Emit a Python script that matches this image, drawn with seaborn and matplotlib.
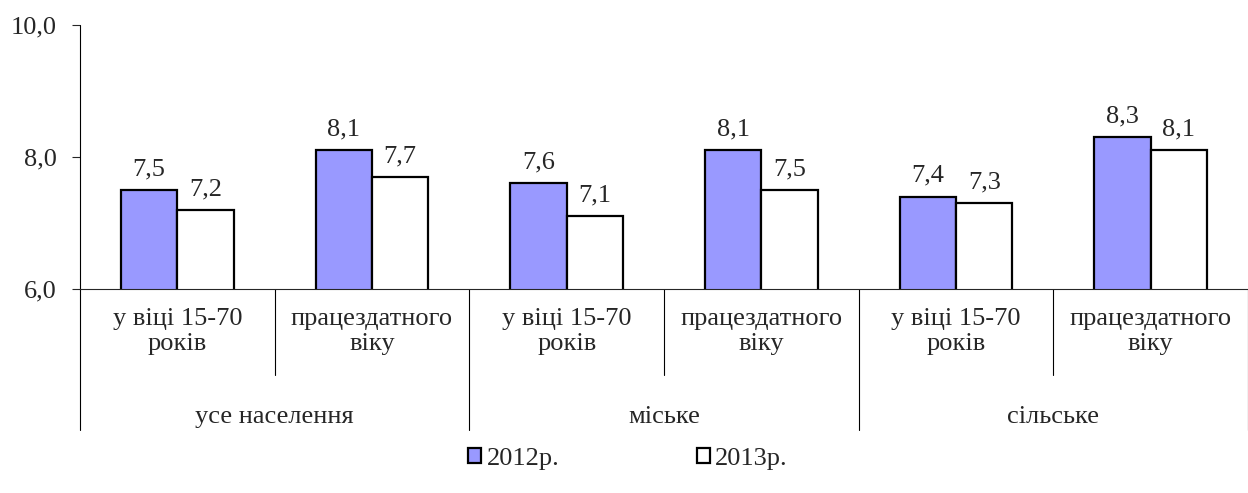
import pandas as pd
import numpy as np
import matplotlib.pyplot as plt
import seaborn as sns

# дані
sub_labels = ['у віці 15-70\nроків', 'працездатного\nвіку'] * 3
group_labels = ['усе населення', 'міське', 'сільське']
years = ['2012р.', '2013р.']
v2012 = [7.5, 8.1, 7.6, 8.1, 7.4, 8.3]
v2013 = [7.2, 7.7, 7.1, 7.5, 7.3, 8.1]

cats = [f'c{i}' for i in range(len(v2012))]
df = pd.DataFrame({
    'cat': cats * 2,
    'year': [years[0]] * len(cats) + [years[1]] * len(cats),
    'value': v2012 + v2013,
})

sns.set_style('white')
plt.rcParams['font.family'] = ['Liberation Serif', 'DejaVu Serif']
plt.rcParams['font.size'] = 19
fs = 19

fig = plt.figure(figsize=(12.48, 4.93), dpi=100)
ax = fig.add_axes([80 / 1248, 204 / 493, 1 - 80 / 1248, 264 / 493])

sns.barplot(data=df, x='cat', y='value', hue='year', order=cats,
            palette=['#9999FF', '#FFFFFF'], saturation=1, edgecolor='black',
            linewidth=1.6, width=0.58, ax=ax, legend=True)

ax.set_ylim(6, 10)
ax.set_xlim(-0.5, 5.5)
ax.set_yticks([6, 8, 10])
ax.set_yticklabels(['6,0', '8,0', '10,0'])
ax.set_xticks([])
ax.set_xlabel('')
ax.set_ylabel('')
ax.tick_params(axis='y', direction='out', length=6, width=0.8, left=True, pad=11)
for s in ['top', 'right', 'left']:
    ax.spines[s].set_visible(False)
ax.spines['bottom'].set_linewidth(0.8)

# підписи значень
for cont in ax.containers:
    ax.bar_label(cont, labels=[f'{h:.1f}'.replace('.', ',') for h in cont.datavalues],
                 padding=7, fontsize=fs)

# вісь категорій (два рівні)
trans = ax.get_xaxis_transform()
ax.plot([-0.5, -0.5], [1, -0.534], color='black', lw=0.8, transform=trans, clip_on=False)
for x in [0.5, 2.5, 4.5]:
    ax.plot([x, x], [0, -0.326], color='black', lw=0.8, transform=trans, clip_on=False)
for x in [1.5, 3.5, 5.5]:
    ax.plot([x, x], [0, -0.534], color='black', lw=0.8, transform=trans, clip_on=False)
for i, lab in enumerate(sub_labels):
    ax.text(i, -0.162, lab, transform=trans, ha='center', va='center',
            fontsize=fs, linespacing=1.2)
for g, lab in enumerate(group_labels):
    ax.text(2 * g + 0.5, -0.485, lab, transform=trans, ha='center', va='center', fontsize=fs)

# легенда
h, l = ax.get_legend_handles_labels()
ax.legend(h, l, loc='center', bbox_to_anchor=(0.5 + 4 / 1248, 1 - 459 / 493),
          bbox_transform=fig.transFigure, ncol=2, frameon=False,
          handlelength=0.5, handleheight=0.5, handletextpad=0.2,
          columnspacing=5.2, fontsize=fs)

fig.savefig('out.png', dpi=100)
